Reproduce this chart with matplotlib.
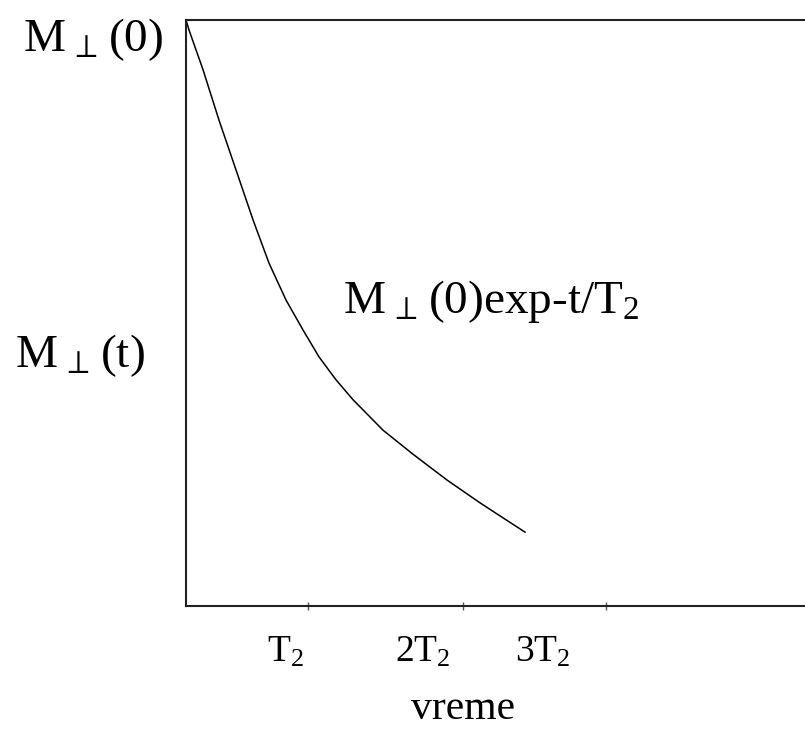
import numpy as np
import matplotlib
matplotlib.use("Agg")
import matplotlib.pyplot as plt

plt.rcParams['font.family'] = ['Liberation Serif', 'DejaVu Serif']
plt.rcParams['mathtext.fontset'] = 'custom'
plt.rcParams['mathtext.rm'] = 'Liberation Serif'
plt.rcParams['mathtext.it'] = 'Liberation Serif'

# Decay curve of transverse magnetisation (arbitrary units, 0-100)
t_vals = [0, 0.48, 2.75, 5.33, 8.08, 10.82, 13.41, 16.16, 18.90, 21.49,
          24.23, 26.98, 31.83, 36.67, 42.16, 47.50, 54.77]
m_vals = [100, 98.3, 91.5, 82.9, 74.4, 65.9, 58.5, 52.2, 47.1, 42.5,
          38.6, 35.2, 30.0, 25.9, 21.5, 17.6, 12.6]

# Time axis marks
tick_pos = [19.7, 44.7, 67.9]
tick_text = [r'T$_{\mathrm{2}}$', r'2T$_{\mathrm{2}}$', r'3T$_{\mathrm{2}}$']
tick_text_x = [16.0, 38.3, 57.7]

fig = plt.figure(figsize=(8.05, 7.31), dpi=100)
ax = fig.add_axes([0.2311, 0.171, 0.7689, 0.8016])

ax.plot(t_vals, m_vals, color='black', lw=1.1)

ax.set_xlim(0, 100)
ax.set_ylim(0, 100)
ax.spines['right'].set_visible(False)
for s in ['left', 'bottom', 'top']:
    ax.spines[s].set_linewidth(1.5)
    ax.spines[s].set_color('#222222')

ax.set_yticks([])
ax.set_xticks(tick_pos)
ax.set_xticklabels([])
ax.tick_params(axis='x', direction='inout', length=6, width=1, color='#555555')

xt = ax.get_xaxis_transform()
for x, lab in zip(tick_text_x, tick_text):
    ax.text(x, -0.079, lab, transform=xt, ha='center', va='center', fontsize=27)
ax.text(44.7, -0.175, 'vreme', transform=xt, ha='center', va='center', fontsize=30)

ax.text(-0.037, 0.966, r'M$_{\,\perp\,}$(0)', transform=ax.transAxes,
        ha='right', va='center', fontsize=34)
ax.text(-0.066, 0.427, r'M$_{\,\perp\,}$(t)', transform=ax.transAxes,
        ha='right', va='center', fontsize=34)
ax.text(25.4, 52.0, r'M$_{\,\perp\,}$(0)exp-t/T$_{\mathrm{2}}$',
        ha='left', va='center', fontsize=34)

fig.savefig('out.png', dpi=100)
